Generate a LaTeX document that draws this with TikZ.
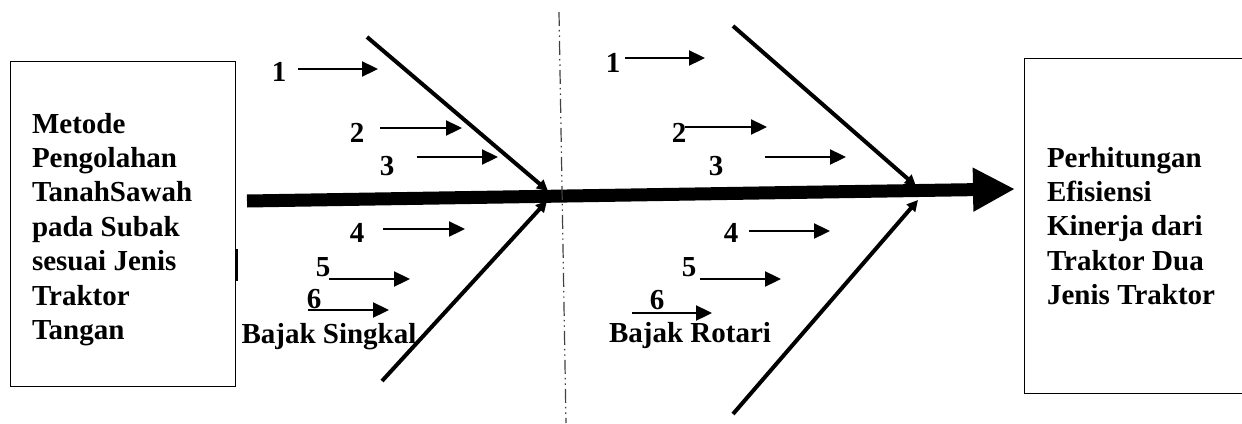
\documentclass[tikz,border=0pt]{standalone}
\usepackage{fontspec}
\setmainfont{Liberation Serif}
\usetikzlibrary{arrows.meta,positioning}

\begin{document}
\begin{tikzpicture}[
    x=1pt, y=-1pt,
    box_text/.style={rectangle, draw, line width=1pt, align=left, text width=181pt, inner xsep=22pt, minimum height=325pt, font=\fontsize{29}{34.4}\selectfont\bfseries, execute at begin node={\spaceskip=7.5pt\relax}},
    num_label/.style={inner sep=0pt, font=\fontsize{29}{34}\selectfont\bfseries},
    plow_label/.style={inner sep=0pt, anchor=base, font=\fontsize{29}{34}\selectfont\bfseries},
    cause_arrow/.style={line width=2.3pt, -{Triangle[length=16pt, width=15pt]}},
    bone/.style={line width=4pt, -{Triangle[length=11pt, width=11pt]}},
    spine/.style={line width=13pt, -{Triangle[length=42pt, width=41pt]}}
]
\useasboundingbox (0,0) rectangle (1242,423);
\clip (0,0) rectangle (1242,423);

% boxes
\node[box_text] (left_box) at (122.5,223.5) {\rule{0pt}{32pt}Metode\\ Pengolahan\\ TanahSawah\\ pada Subak\\ sesuai Jenis\\ Traktor\\ Tangan};
\node[box_text, draw=none, minimum height=334pt, text width=206pt] (right_box) at (1150,226) {Perhitungan\\ Efisiensi\\ Kinerja dari\\ Traktor Dua\\ Jenis Traktor};
\draw[line width=1pt] (right_box.north east) -- (right_box.north west) -- (right_box.south west) -- (right_box.south east);
\draw[line width=3pt] ([xshift=1pt]left_box.east |- 0,249) -- ([xshift=1pt]left_box.east |- 0,281);

% spine and bones
\coordinate (spine_start) at (247,201);
\coordinate (spine_tip) at (1015,189);
\draw[spine] (spine_start) -- (spine_tip);

\coordinate (bl_top_start) at (367,37);
\coordinate (bl_top_end) at (548,191);
\coordinate (bl_bot_start) at (382,381);
\coordinate (bl_bot_end) at (547,201);
\coordinate (br_top_start) at (733,26);
\coordinate (br_top_end) at (916,186);
\coordinate (br_bot_start) at (733,414);
\coordinate (br_bot_end) at (918,200);
\draw[bone] (bl_top_start) -- (bl_top_end);
\draw[bone] (bl_bot_start) -- (bl_bot_end);
\draw[bone] (br_top_start) -- (br_top_end);
\draw[bone] (br_bot_start) -- (br_bot_end);

% divider
\coordinate (axis_top) at (559,12);
\coordinate (axis_bot) at (566,423);
\draw[line width=1.2pt, black!75, dash pattern=on 14pt off 4pt on 1.5pt off 4pt on 1.5pt off 4pt] (axis_top) -- (axis_bot);

% causes, Bajak Singkal
\foreach \n/\lx/\ly/\ax/\bx/\ay in {1/279/72/298/378/69, 2/357/133/380/462/128, 3/387/166/417/498/157, 4/357/233/383/465/229, 5/323/267/329/410/279, 6/314/299/308/389/310} {
    \node[num_label] (sl\n) at (\lx,\ly) {\n};
    \coordinate (sa\n) at (\ax,\ay);
    \coordinate (sb\n) at (\bx,\ay);
    \draw[cause_arrow] (sa\n) -- (sb\n);
}
\node[plow_label] (singkal) at (329,343) {Bajak Singkal};

% causes, Bajak Rotari
\foreach \n/\lx/\ly/\ax/\bx/\ay in {1/613/63/625/705/58, 2/679/133/685/767/127, 3/716/166/765/846/157, 4/731/233/749/830/231, 5/689/267/700/781/279, 6/657/300/632/712/313} {
    \node[num_label] (rl\n) at (\lx,\ly) {\n};
    \coordinate (ra\n) at (\ax,\ay);
    \coordinate (rb\n) at (\bx,\ay);
    \draw[cause_arrow] (ra\n) -- (rb\n);
}
\node[plow_label] (rotari) at (690,342) {Bajak Rotari};
\end{tikzpicture}
\end{document}
